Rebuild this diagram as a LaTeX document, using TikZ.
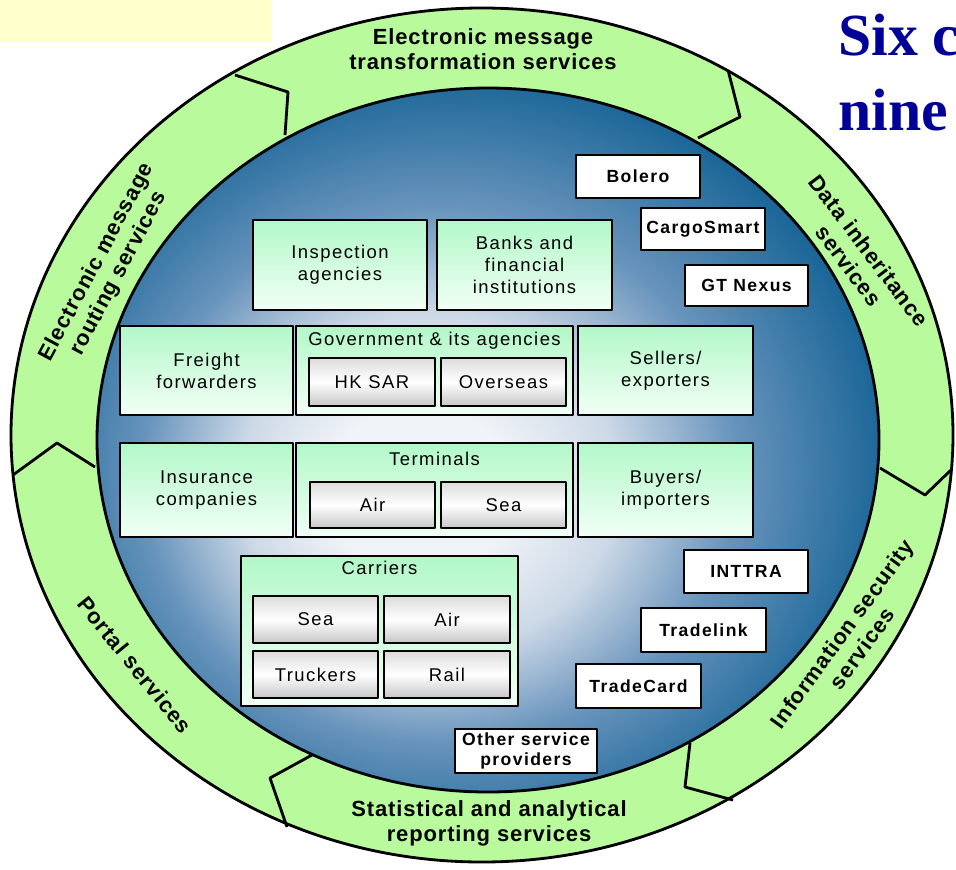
\documentclass[tikz,border=0pt]{standalone}
\usepackage{fontspec}
\setmainfont{Liberation Sans}
\newfontfamily\ringfont[LetterSpace=4]{Liberation Sans}
\newfontfamily\boxfont[LetterSpace=8]{Liberation Sans}
\newfontfamily\headfont{Liberation Serif}
\definecolor{NoteYellow}{RGB}{255,255,204}
\definecolor{RingGreen}{RGB}{184,250,156}
\definecolor{BoxGreen}{RGB}{178,248,200}
\definecolor{BoxPale}{RGB}{242,255,246}
\definecolor{HeadBlue}{RGB}{0,0,153}
\definecolor{DiscLight}{RGB}{240,243,247}
\definecolor{DiscPale}{RGB}{205,217,231}
\definecolor{DiscMid}{RGB}{104,148,188}
\definecolor{DiscDark}{RGB}{6,90,142}
\usetikzlibrary{shadings,positioning}
\pgfdeclareradialshading{seadisc}{\pgfpoint{-5bp}{-4bp}}{color(0bp)=(DiscLight); color(6bp)=(DiscLight); color(12bp)=(DiscPale); color(19bp)=(DiscMid); color(30bp)=(DiscDark); color(50bp)=(DiscDark)}
\tikzset{
	boxsize/.style 2 args={minimum width=#1*0.02cm,minimum height=#2*0.02cm},
	orgbox/.style={draw,line width=1.6pt,top color=BoxGreen,bottom color=BoxPale,
		align=center,inner sep=0pt,outer sep=0pt,font=\boxfont\fontsize{10.5}{12.5}\selectfont},
	subbox/.style={draw,line width=1.4pt,top color=black!14,bottom color=black!22,middle color=white,
		inner sep=0pt,outer sep=0pt,font=\boxfont\fontsize{10.5}{12.5}\selectfont},
	firmbox/.style={draw,line width=1.6pt,fill=white,align=center,inner sep=0pt,
		font=\boxfont\bfseries\fontsize{10}{11.5}\selectfont},
	boxtitle/.style={inner sep=0pt,font=\boxfont\fontsize{10.5}{12.5}\selectfont},
	ringlabel/.style={align=center,inner sep=0pt,font=\ringfont\bfseries\fontsize{12.5}{14.2}\selectfont}
}
\def\headf#1{\textcolor{HeadBlue}{\headfont\bfseries #1}}

\begin{document}
\begin{tikzpicture}[x=0.02cm,y=-0.02cm,line join=round]
	\useasboundingbox (0,0) rectangle (956,869);
	\fill[NoteYellow] (0,0) rectangle (272,42);
	% ring and disc
	\draw[line width=1.6pt,fill=RingGreen] (482,435) ellipse [x radius=471,y radius=427];
	\draw[line width=1.6pt,shading=seadisc] (488,440) ellipse [x radius=391,y radius=352];
	\draw[line width=1.6pt] (235,75) -- (288,92) -- (285,135);
	\draw[line width=1.6pt] (728,70) -- (740,117) -- (698,138);
	\draw[line width=1.6pt] (951,470) -- (925,495) -- (880,468);
	\draw[line width=1.6pt] (733,800) -- (685,787) -- (690,743);
	\draw[line width=1.6pt] (287,827) -- (270,778) -- (312,755);
	\draw[line width=1.6pt] (13,475) -- (57,443) -- (95,467);

	\node[ringlabel] (transform) at (483,49) {Electronic message\\transformation services};
	\node[ringlabel,rotate=-53] (inherit) at (859,258) {Data inheritance\\services};
	\node[ringlabel,rotate=54] (security) at (852,641) {Information security\\services};
	\node[ringlabel] (report) at (489,823) {Statistical and analytical\\reporting services};
	\node[ringlabel,rotate=-51] (portal) at (135,665) {Portal services};
	\node[ringlabel,rotate=62] (routing) at (108,268) {Electronic message\\routing services};

	\node[orgbox,boxsize={174}{90}] (inspect) at (340,265) {Inspection\\agencies};
	\node[orgbox,boxsize={175}{90}] (banks) at (524.5,265) {Banks and\\financial\\institutions};
	\node[orgbox,boxsize={173}{89}] (freight) at (206.5,370.5) {Freight\\forwarders};
	\node[orgbox,boxsize={277}{89}] (govt) at (434.5,370.5) {};
	\node[boxtitle,below=0.12cm of govt.north] (govttitle) {Government \& its agencies};
	\node[subbox,boxsize={126}{48}] (hksar) at (372,382) {HK SAR};
	\node[subbox,boxsize={125}{48},right=0.12cm of hksar] (overseas) {Overseas};
	\node[orgbox,boxsize={175}{89}] (sellers) at (665.5,370.5) {Sellers/\\exporters};

	\node[orgbox,boxsize={173}{94}] (insure) at (206.5,490) {Insurance\\companies};
	\node[orgbox,boxsize={277}{94}] (terminals) at (434.5,490) {};
	\node[boxtitle,below=0.18cm of terminals.north] (termtitle) {Terminals};
	\node[subbox,boxsize={125}{46}] (termair) at (372.5,505) {Air};
	\node[subbox,boxsize={125}{46},right=0.12cm of termair] (termsea) {Sea};
	\node[orgbox,boxsize={175}{94}] (buyers) at (665.5,490) {Buyers/\\importers};

	\node[orgbox,boxsize={277}{150}] (carriers) at (379.5,631) {};
	\node[boxtitle,below=0.1cm of carriers.north] (cartitle) {Carriers};
	\node[subbox,boxsize={125}{47}] (carsea) at (315.5,619.5) {Sea};
	\node[subbox,boxsize={126}{47},right=0.12cm of carsea] (carair) {Air};
	\node[subbox,boxsize={125}{47},below=0.16cm of carsea] (cartruck) {Truckers};
	\node[subbox,boxsize={126}{47},right=0.12cm of cartruck] (carrail) {Rail};

	\node[firmbox,boxsize={124}{43}] (bolero) at (638,176.5) {Bolero};
	\node[firmbox,boxsize={124}{42}] (cargosmart) at (703,229) {CargoSmart};
	\node[firmbox,boxsize={123}{41}] (gtnexus) at (746.5,285.5) {GT Nexus};
	\node[firmbox,boxsize={124}{43}] (inttra) at (746,571.5) {INTTRA};
	\node[firmbox,boxsize={125}{44}] (tradelink) at (703.5,630) {Tradelink};
	\node[firmbox,boxsize={125}{44}] (tradecard) at (638.5,686) {TradeCard};
	\node[firmbox,boxsize={142}{44}] (others) at (526,751) {Other service\\providers};

	\node[anchor=base west,inner sep=0pt,font=\fontsize{34}{40}\selectfont] (head1) at (838,55) {\headf{Six c}};
	\node[anchor=base west,inner sep=0pt,font=\fontsize{34}{40}\selectfont] (head2) at (838,130) {\headf{nine}};
\end{tikzpicture}
\end{document}
